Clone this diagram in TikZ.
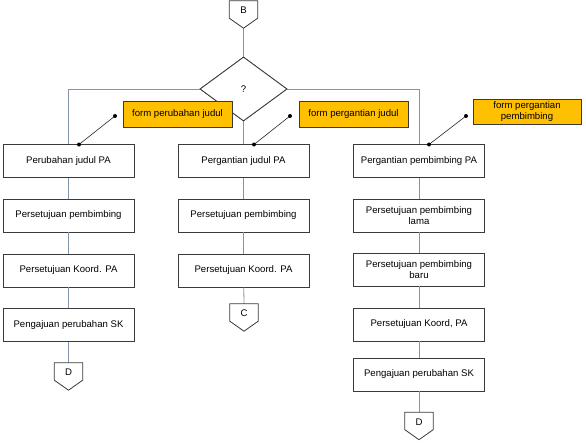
\documentclass[tikz,border=0pt]{standalone}
\usepackage{fontspec}
\setmainfont{Liberation Sans}
\usetikzlibrary{shapes.geometric,calc}
\definecolor{conn}{HTML}{8494AC}
\definecolor{boxline}{HTML}{3A3A3A}
\definecolor{orangefill}{HTML}{FFC000}
\tikzset{
  proc/.style={draw=boxline, line width=0.8pt, fill=white, minimum width=131pt, minimum height=33pt, inner sep=1pt, align=center, font=\fontsize{9.6}{11.5}\selectfont},
  docbox/.style={draw=boxline, line width=0.8pt, fill=orangefill, minimum width=109pt, minimum height=26pt, inner sep=1pt, align=center, font=\fontsize{9.6}{11.5}\selectfont},
  offpg/.style={rectangle, minimum width=28pt, minimum height=27pt, inner sep=0pt, font=\fontsize{9.6}{11.5}\selectfont},
  decis/.style={diamond, draw=boxline, line width=0.8pt, fill=white, minimum width=87pt, minimum height=64pt, inner sep=0pt, font=\fontsize{9.6}{11.5}\selectfont},
  flow/.style={draw=conn, line width=0.8pt},
  annot/.style={draw=black!85, line width=0.6pt},
  dotend/.style={fill=black, circle, inner sep=0pt, minimum size=4pt}
}
\newcommand{\pentagonize}[1]{%
  \draw[boxline, line width=0.8pt, fill=white] (#1.north west) -- (#1.north east) -- ([yshift=10pt]#1.south east) -- (#1.south) -- ([yshift=10pt]#1.south west) -- cycle;}
\begin{document}
\begin{tikzpicture}[x=1pt, y=-1pt]
\useasboundingbox (0,0) rectangle (586,444);
% off-page connectors (shape nodes)
\node[offpg] (B) at (243.5,14.5) {};
\node[offpg] (D1) at (68.5,376.5) {};
\node[offpg] (C) at (244,317.5) {};
\node[offpg] (D2) at (419,426) {};
% decision
\node[decis] (Q) at (243.5,89) {?};
% column 1
\node[proc] (a1) at (68.5,161) {Perubahan judul PA};
\node[proc] (a2) at (68.5,215.5) {Persetujuan pembimbing};
\node[proc] (a3) at (68.5,270.5) {Persetujuan Koord. PA};
\node[proc] (a4) at (68.5,325) {Pengajuan perubahan SK};
% column 2
\node[proc] (b1) at (243.5,161) {Pergantian judul PA};
\node[proc] (b2) at (243.5,215.5) {Persetujuan pembimbing};
\node[proc] (b3) at (243.5,270.5) {Persetujuan Koord. PA};
% column 3
\node[proc] (c1) at (419,161) {Pergantian pembimbing PA};
\node[proc] (c2) at (419,215.5) {Persetujuan pembimbing\\lama};
\node[proc] (c3) at (419,269.5) {Persetujuan pembimbing\\baru};
\node[proc] (c4) at (419,324.5) {Persetujuan Koord, PA};
\node[proc] (c5) at (419,374.5) {Pengajuan perubahan SK};
% connectors
\begin{scope}[on background layer/.style={}]
\end{scope}
\draw[flow] (B.south) -- (Q.north);
\draw[flow] (Q.west) -| (a1.north);
\draw[flow] (Q.east) -| (c1.north);
\draw[flow] (Q.south) -- (b1.north);
\draw[flow] (a1) -- (a2);
\draw[flow] (a2) -- (a3);
\draw[flow] (a3) -- (a4);
\draw[flow] (a4) -- (D1.north);
\draw[flow] (b1) -- (b2);
\draw[flow] (b2) -- (b3);
\draw[flow] (b3) -- (C.north);
\draw[flow] (c1) -- (c2);
\draw[flow] (c2) -- (c3);
\draw[flow] (c3) -- (c4);
\draw[flow] (c4) -- (c5);
\draw[flow] (c5) -- (D2.north);
% redraw nodes on top of connectors
\node[decis] at (Q) {?};
\pentagonize{B}\pentagonize{D1}\pentagonize{C}\pentagonize{D2}
\node[offpg] at ([yshift=4pt]B.center) {B};
\node[offpg] at ([yshift=4pt]D1.center) {D};
\node[offpg] at ([yshift=4pt]C.center) {C};
\node[offpg] at ([yshift=4pt]D2.center) {D};
% documents
\node[docbox] (f1) at (177.5,114) {form perubahan judul};
\node[docbox] (f2) at (353.5,114) {form pergantian judul};
\node[docbox, minimum width=108pt, minimum height=25pt, font=\fontsize{9.6}{10.5}\selectfont] (f3) at (527,111.5) {form pergantian\\pembimbing};
% annotation links
\coordinate (s1) at (115,116);
\coordinate (s2) at (290,116);
\coordinate (s3) at (466,116);
\coordinate (t1) at (79,144.5);
\coordinate (t2) at (254,144.5);
\coordinate (t3) at (429,144.5);
\draw[annot] (s1) -- (t1);
\draw[annot] (s2) -- (t2);
\draw[annot] (s3) -- (t3);
\foreach \p in {s1,s2,s3,t1,t2,t3} \fill (\p) circle (2pt);
\end{tikzpicture}
\end{document}
